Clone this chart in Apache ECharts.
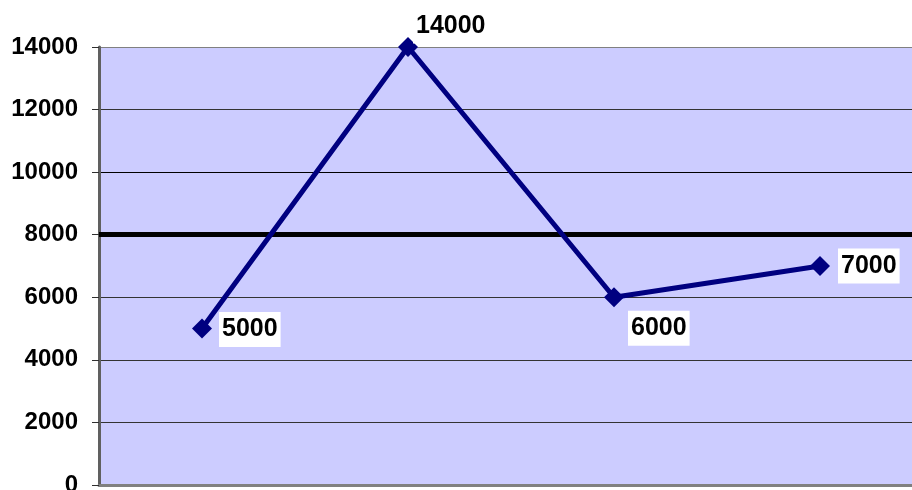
<!DOCTYPE html>
<html>
<head>
<meta charset="utf-8">
<script src="https://cdn.jsdelivr.net/npm/echarts@6/dist/echarts.min.js"></script>
<style>html,body{margin:0;padding:0;background:#fff;}#c{width:912px;height:490px;}</style>
</head>
<body>
<div id="c"></div>
<script>
var categories = ['1', '2', '3', '4'];
var values = [5000, 14000, 6000, 7000];
var threshold = 8000;
var yTicks = [0, 2000, 4000, 6000, 8000, 10000, 12000, 14000];

var labelPlacements = [
  { position: 'right', distance: 7, offset: [0, 1] },
  { position: 'right', distance: 0, offset: [-5, -21] },
  { position: 'right', distance: 4, offset: [0, 31] },
  { position: 'right', distance: 8, offset: [0, 0] }
];

var seriesData = values.map(function (v, i) {
  return { value: v, label: labelPlacements[i] };
});

var chart = echarts.init(document.getElementById('c'), null, { renderer: 'canvas' });
chart.setOption({
  animation: false,
  backgroundColor: '#ffffff',
  textStyle: { fontFamily: 'Liberation Sans, Arial, sans-serif' },
  grid: {
    left: 99, top: 47, bottom: 5, right: -11,
    containLabel: false,
    outerBoundsMode: 'none',
    show: true, backgroundColor: '#CCCCFF', borderColor: '#808080', borderWidth: 0
  },
  xAxis: {
    type: 'category',
    data: categories,
    boundaryGap: true,
    axisLine: { show: true, lineStyle: { color: '#808080', width: 3 } },
    axisTick: { show: false },
    axisLabel: { show: false },
    splitLine: { show: false }
  },
  yAxis: {
    type: 'value',
    min: yTicks[0],
    max: yTicks[yTicks.length - 1],
    interval: 2000,
    axisLine: { show: true, lineStyle: { color: '#606060', width: 3 } },
    axisTick: { show: true, length: 7, inside: false, lineStyle: { color: '#303030', width: 1 } },
    axisLabel: {
      margin: 21, color: '#000', fontSize: 24, fontWeight: 'bold',
      fontFamily: 'Liberation Sans, Arial, sans-serif',
      formatter: function (v) { return String(v); }
    },
    splitLine: {
      show: true,
      lineStyle: { color: ['#000000', '#333333', '#333333', '#333333', '#333333', '#000000', '#333333', '#808080'], width: [1] }
    }
  },
  series: [{
    type: 'line',
    data: seriesData,
    symbol: 'diamond',
    symbolSize: 20,
    lineStyle: { color: '#000080', width: 5 },
    itemStyle: { color: '#000080' },
    label: {
      show: true,
      color: '#000',
      fontSize: 25,
      fontWeight: 'bold',
      fontFamily: 'Liberation Sans, Arial, sans-serif',
      backgroundColor: '#ffffff',
      padding: [3, 3, 3, 3],
      lineHeight: 29
    },
    markLine: {
      silent: true,
      symbol: ['none', 'none'],
      label: { show: false },
      lineStyle: { color: '#000000', width: 5, type: 'solid' },
      data: [{ yAxis: threshold }],
      z: 1
    },
    z: 3
  }]
});
</script>
</body>
</html>
